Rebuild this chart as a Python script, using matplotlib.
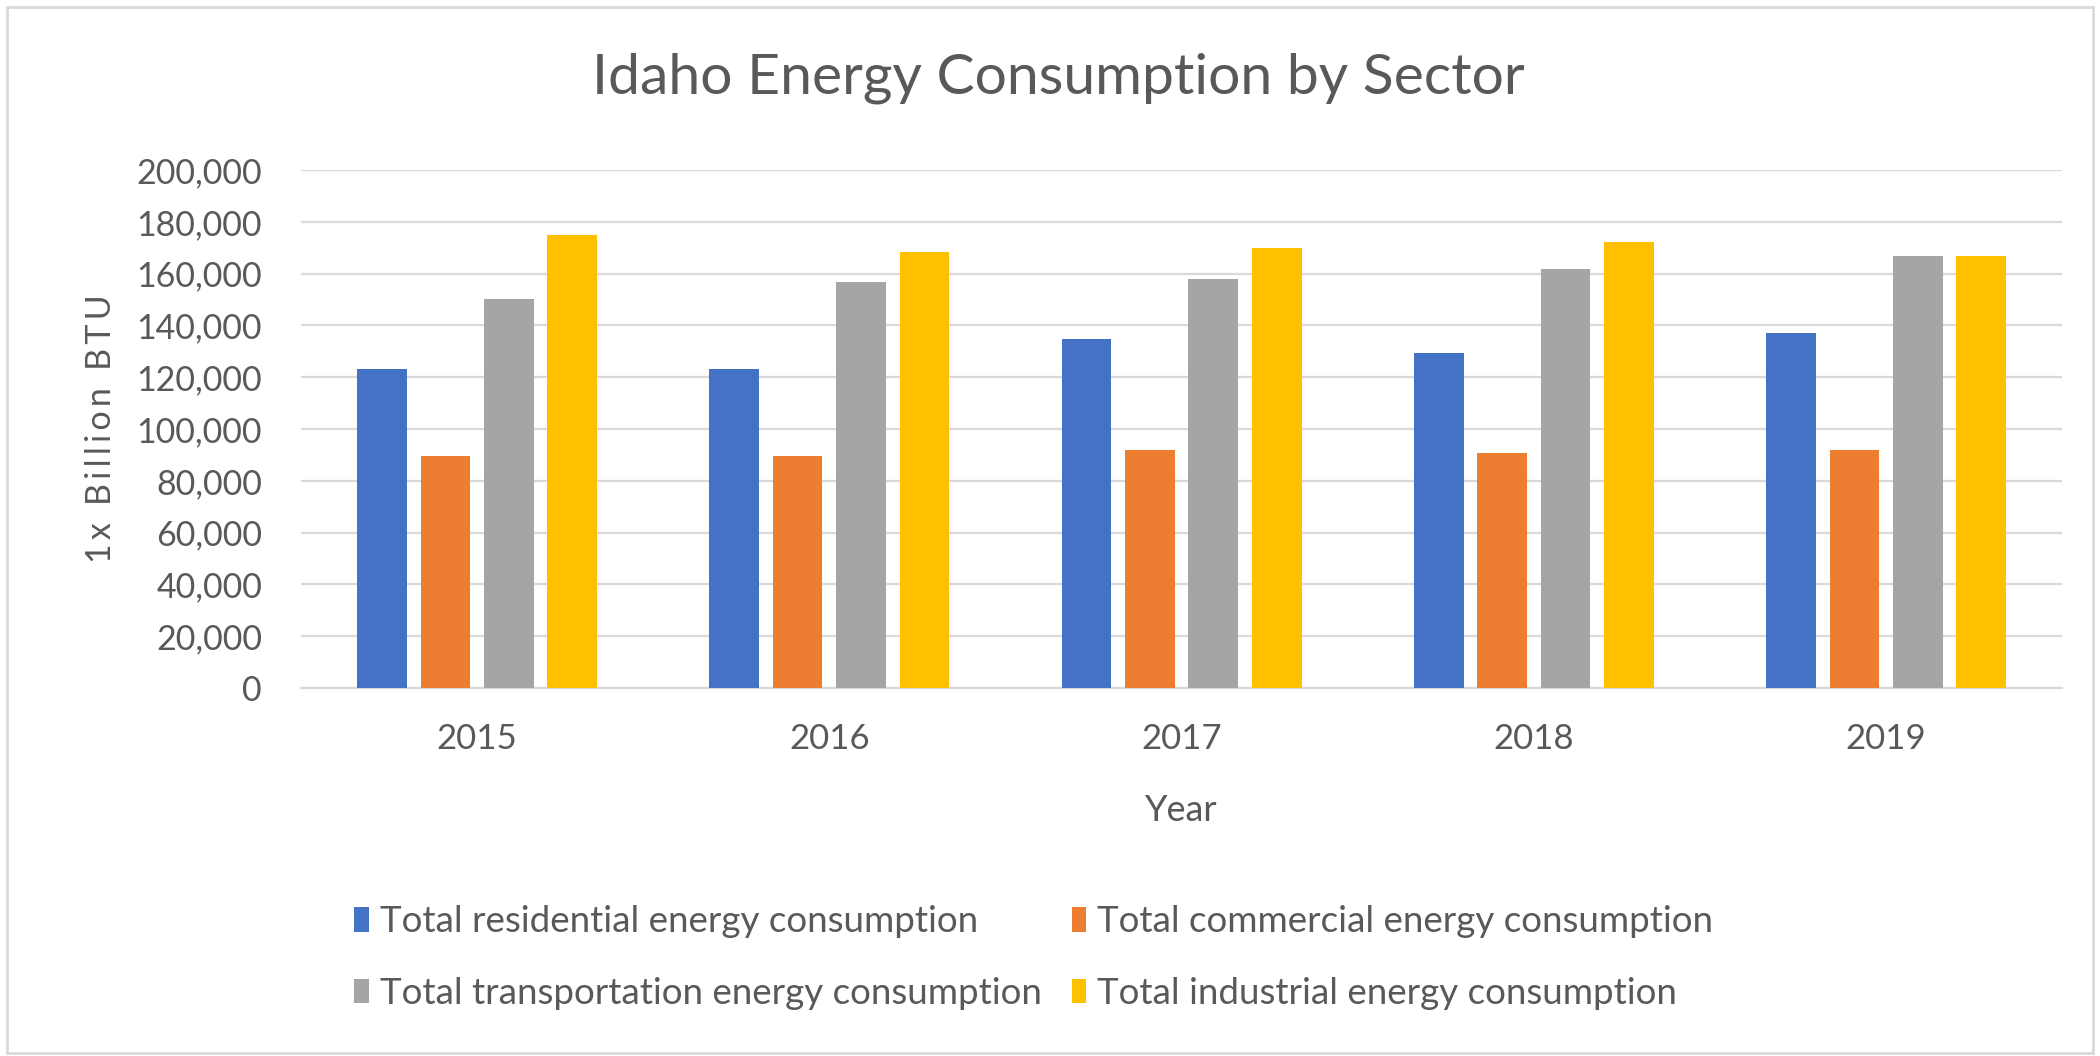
import matplotlib
matplotlib.use("Agg")
import matplotlib.pyplot as plt
import numpy as np
from matplotlib.patches import Rectangle, Patch

years = ["2015", "2016", "2017", "2018", "2019"]
series_names = [
    "Total residential energy consumption",
    "Total commercial energy consumption",
    "Total transportation energy consumption",
    "Total industrial energy consumption",
]
residential = [123000, 123000, 134800, 129500, 137200]
commercial = [89400, 89400, 92000, 90800, 92000]
transportation = [150100, 156600, 157900, 161800, 166900]
industrial = [174800, 168300, 169700, 172100, 166900]
y_ticks = [0, 20000, 40000, 60000, 80000, 100000, 120000, 140000, 160000, 180000, 200000]

colors = ["#4472C4", "#ED7D31", "#A5A5A5", "#FFC000"]
text_col = "#595959"
grid_col = "#D9D9D9"

plt.rcParams['font.family'] = ['Lato', 'DejaVu Sans']

fig = plt.figure(figsize=(21, 10.56), dpi=100)
fig.patch.set_facecolor("white")
ax = fig.add_axes([0.1433, 0.3485, 0.8387, 0.4905])

x = np.arange(len(years))
step = 0.18
width = 0.141
all_series = [residential, commercial, transportation, industrial]
for i, (vals, c) in enumerate(zip(all_series, colors)):
    ax.bar(x + (i - 1.5) * step, vals, width=width, color=c, zorder=3)

ax.set_xlim(-0.5, len(years) - 0.5)
ax.set_ylim(0, 200000)
ax.set_yticks(y_ticks)
ax.set_yticklabels([f"{v:,}" for v in y_ticks])
ax.set_xticks(x)
ax.set_xticklabels(years)
ax.tick_params(axis="y", length=0, labelsize=24.5, colors=text_col, pad=28)
ax.tick_params(axis="x", length=0, labelsize=25, colors=text_col, pad=25)
ax.grid(axis="y", color=grid_col, linewidth=1.6, zorder=0)
for s in ["top", "right", "left"]:
    ax.spines[s].set_visible(False)
ax.spines["bottom"].set_color(grid_col)
ax.spines["bottom"].set_linewidth(1.6)

ylab = "\u2009".join(list("1x")) + "\u2009\u2009 " + "\u2009".join(list("Billion")) + "\u2009\u2009 " + "\u2009".join(list("BTU"))
ax.set_ylabel(ylab, fontsize=24.5, color=text_col, labelpad=14)
ax.set_xlabel("Year", fontsize=26, color=text_col, labelpad=28)

fig.text(0.504, 0.926, "Idaho Energy Consumption by Sector", ha="center", va="center",
         fontsize=41, color=text_col)

handles = [Patch(facecolor=c) for c in colors]
order = [0, 2, 1, 3]
leg = fig.legend([handles[i] for i in order], [series_names[i] for i in order],
                 ncol=2, loc="center left", bbox_to_anchor=(0.153, 0.093),
                 frameon=False, fontsize=26.5, handlelength=0.4, handleheight=0.65,
                 handletextpad=0.3, columnspacing=0.8, labelspacing=1.05,
                 labelcolor=text_col)

fig.patches.append(Rectangle((7 / 2100, 3 / 1056), 2086 / 2100, 1046 / 1056,
                             transform=fig.transFigure, fill=False,
                             edgecolor=grid_col, linewidth=2))

fig.savefig("out.png", dpi=100)
